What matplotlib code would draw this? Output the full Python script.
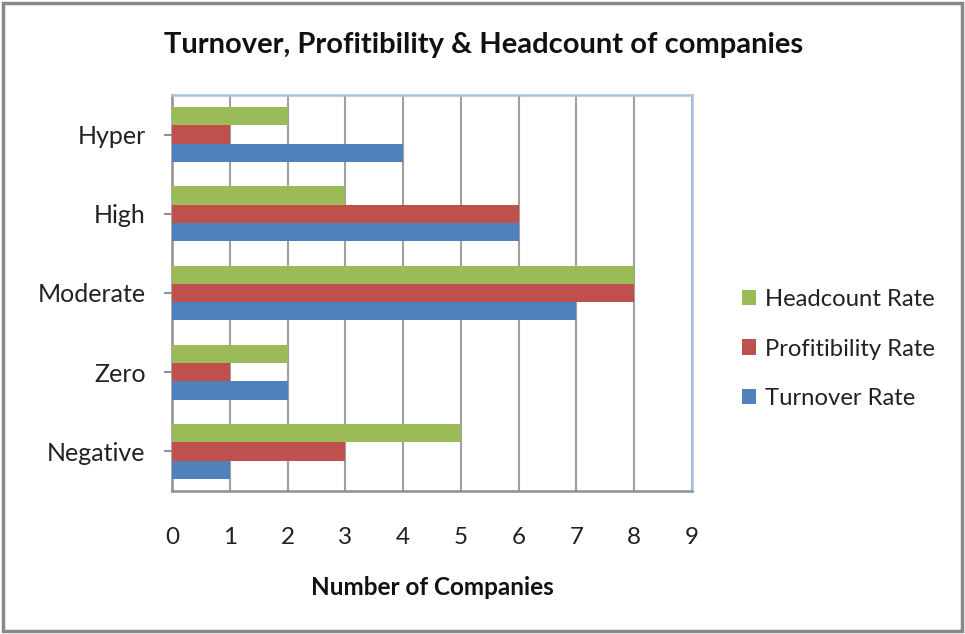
import matplotlib
matplotlib.use("Agg")
import matplotlib.pyplot as plt
import numpy as np
from matplotlib.patches import Rectangle

categories = ["Negative", "Zero", "Moderate", "High", "Hyper"]
turnover = [1, 2, 7, 6, 4]
profitability = [3, 1, 8, 6, 1]
headcount = [5, 2, 8, 3, 2]
series_names = ["Turnover Rate", "Profitibility Rate", "Headcount Rate"]
colors = ["#4F81BD", "#C0504D", "#9BBB59"]
x_ticks = list(range(0, 10))

plt.rcParams['font.family'] = ['Lato', 'DejaVu Sans']

fig = plt.figure(figsize=(9.65, 6.34), dpi=100)
ax = fig.add_axes([172/965, 1-491/634, (692-172)/965, (491-95)/634])

y = np.arange(len(categories))
h = 0.23
for i, (vals, name, c) in enumerate(zip([turnover, profitability, headcount], series_names, colors)):
    ax.barh(y + (i - 1) * h, vals, height=h, color=c, label=name, zorder=3)

ax.set_ylim(-0.5, len(categories) - 0.5)
ax.set_xlim(0, 9)
ax.set_xticks(x_ticks)
ax.set_xticklabels([str(t) for t in x_ticks], fontsize=17.5, color="#222222")
ax.set_yticks(y)
ax.set_yticklabels(categories, fontsize=18, color="#222222")
ax.tick_params(axis='x', length=0, pad=26)
ax.tick_params(axis='y', length=6, width=1.5, color="#909090", pad=13)
ax.grid(axis='x', color="#A0A0A0", linewidth=1.5, zorder=0)

for s in ["left", "bottom"]:
    ax.spines[s].set_color("#909090")
    ax.spines[s].set_linewidth(1.8)
for s in ["top", "right"]:
    ax.spines[s].set_color("#A8C0E4")
    ax.spines[s].set_linewidth(1.8)

ax.set_xlabel("Number of Companies", fontsize=17.5, fontweight='bold', labelpad=20, color="#111111")

fig.text(484/965, 1-45/634, "Turnover, Profitibility & Headcount of companies",
         ha='center', va='center', fontsize=21, fontweight='bold', color="#111111")

handles, labels = ax.get_legend_handles_labels()
leg = fig.legend(handles[::-1], labels[::-1], loc='center left',
                 bbox_to_anchor=(720/965, 1-349/634), frameon=False,
                 fontsize=17.2, handlelength=0.6, handleheight=0.6,
                 labelspacing=1.2, handletextpad=0.4)
for t in leg.get_texts():
    t.set_color("#222222")

fig.patches.append(Rectangle((0.003, 0.004), 0.994, 0.992, transform=fig.transFigure,
                             fill=False, edgecolor="#888888", linewidth=2.5))

fig.savefig("out.png", dpi=100, facecolor="white")
